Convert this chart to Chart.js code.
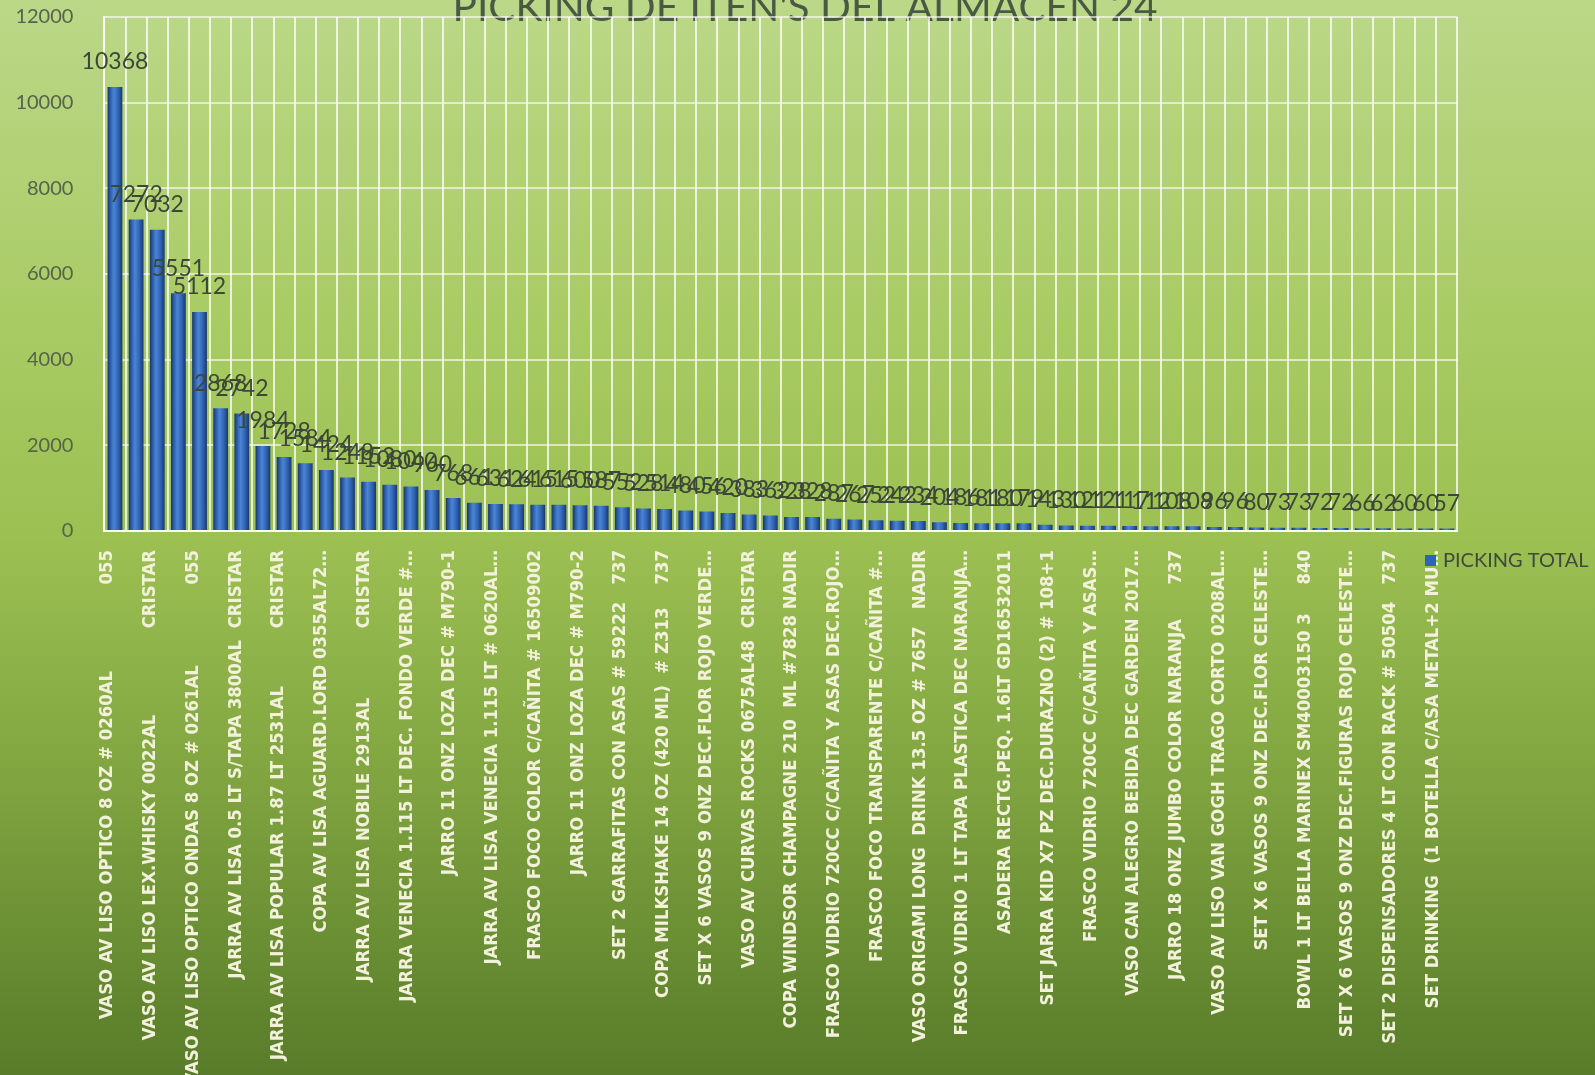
<!DOCTYPE html>
<html>
<head>
<meta charset="utf-8">
<script src="https://cdn.jsdelivr.net/npm/chart.js@4.4.1/dist/chart.umd.min.js"></script>
<style>
html,body{margin:0;padding:0;background:#9cbf52;}
#wrap{width:1595px;height:1075px;position:relative;}
canvas{display:block;}
</style>
</head>
<body>
<div id="wrap"><canvas id="c" width="1595" height="1075"></canvas></div>
<script>
const chartTitle = "PICKING DE ITEN'S DEL ALMACEN 24";
const seriesName = "PICKING TOTAL";

// one visible label for every second category
const tickLabels = [
  "VASO AV LISO OPTICO 8 OZ # 0260AL               055",
  "VASO AV LISO LEX.WHISKY 0022AL               CRISTAR",
  "VASO AV LISO OPTICO ONDAS 8 OZ # 0261AL              055",
  "JARRA AV LISA 0.5 LT S/TAPA 3800AL  CRISTAR",
  "JARRA AV LISA POPULAR 1.87 LT 2531AL          CRISTAR",
  "COPA AV LISA AGUARD.LORD 0355AL72…",
  "JARRA AV LISA NOBILE 2913AL            CRISTAR",
  "JARRA VENECIA 1.115 LT DEC. FONDO VERDE #…",
  "JARRO 11 ONZ LOZA DEC # M790-1",
  "JARRA AV LISA VENECIA 1.115 LT # 0620AL…",
  "FRASCO FOCO COLOR C/CAÑITA # 16509002",
  "JARRO 11 ONZ LOZA DEC # M790-2",
  "SET 2 GARRAFITAS CON ASAS # 59222   737",
  "COPA MILKSHAKE 14 OZ (420 ML)  # Z313    737",
  "SET X 6 VASOS 9 ONZ DEC.FLOR ROJO VERDE…",
  "VASO AV CURVAS ROCKS 0675AL48  CRISTAR",
  "COPA WINDSOR CHAMPAGNE 210  ML #7828 NADIR",
  "FRASCO VIDRIO 720CC C/CAÑITA Y ASAS DEC.ROJO…",
  "FRASCO FOCO TRANSPARENTE C/CAÑITA #…",
  "VASO ORIGAMI LONG  DRINK 13.5 OZ # 7657   NADIR",
  "FRASCO VIDRIO 1 LT TAPA PLASTICA DEC NARANJA…",
  "ASADERA RECTG.PEQ. 1.6LT GD16532011",
  "SET JARRA KID X7 PZ DEC.DURAZNO (2) # 108+1",
  "FRASCO VIDRIO 720CC C/CAÑITA Y ASAS…",
  "VASO CAN ALEGRO BEBIDA DEC GARDEN 2017…",
  "JARRO 18 ONZ JUMBO COLOR NARANJA      737",
  "VASO AV LISO VAN GOGH TRAGO CORTO 0208AL…",
  "SET X 6 VASOS 9 ONZ DEC.FLOR CELESTE…",
  "BOWL 1 LT BELLA MARINEX SM40003150 3     840",
  "SET X 6 VASOS 9 ONZ DEC.FIGURAS ROJO CELESTE…",
  "SET 2 DISPENSADORES 4 LT CON RACK # 50504   737",
  "SET DRINKING  (1 BOTELLA C/ASA METAL+2 MU…"
];

const pickingTotal = [
  10368, 7272, 7032, 5551, 5112, 2868, 2742, 1984,
  1728, 1584, 1424, 1248, 1152, 1080, 1040, 960,
  768, 661, 631, 624, 615, 615, 600, 587,
  552, 528, 514, 480, 456, 420, 383, 362,
  328, 328, 287, 267, 252, 242, 234, 204,
  186, 181, 180, 179, 143, 130, 121, 121,
  117, 112, 108, 108, 96, 96, 80, 73,
  73, 72, 72, 66, 62, 60, 60, 57
];

// category names: only every second one is shown on the axis
const categories = pickingTotal.map((_, i) => (i % 2 === 0 ? tickLabels[i / 2] : ""));

const yTicks = [0, 2000, 4000, 6000, 8000, 10000, 12000];

// size the axis-label font so the first label's text run matches the reference length
const labelFamily = "'Liberation Sans Narrow', 'DejaVu Sans Condensed', sans-serif";
const mctx = document.createElement('canvas').getContext('2d');
mctx.font = "bold 100px " + labelFamily;
const labelSize = Math.round(10 * 100 * 348 / mctx.measureText("VASO AV LISO OPTICO 8 OZ # 0260AL").width) / 10;

function barFill(c) {
  const chart = c.chart;
  const xs = chart.scales && chart.scales.x;
  if (!xs || c.dataIndex === undefined || !isFinite(xs.width)) return '#2f62b0';
  const cx = xs.getPixelForValue(c.dataIndex);
  const w = (xs.width / pickingTotal.length) * 0.7;
  const g = chart.ctx.createLinearGradient(cx - w / 2, 0, cx + w / 2, 0);
  g.addColorStop(0, '#17356a');
  g.addColorStop(0.18, '#2b5ba6');
  g.addColorStop(0.42, '#4c85d6');
  g.addColorStop(0.72, '#3063b3');
  g.addColorStop(1, '#183870');
  return g;
}

const bgPlugin = {
  id: 'bg',
  beforeDraw(chart) {
    const ctx = chart.ctx;
    const h = chart.height, w = chart.width;
    const g = ctx.createLinearGradient(0, 0, 0, h);
    g.addColorStop(0, '#bbd888');
    g.addColorStop(0.3, '#a9cb64');
    g.addColorStop(0.5, '#9cc052');
    g.addColorStop(0.7, '#83a842');
    g.addColorStop(1, '#587c29');
    ctx.save();
    ctx.fillStyle = g;
    ctx.fillRect(0, 0, w, h);
    // title (partially above the top edge, as in the reference)
    ctx.font = '41px Lato';
    ctx.fillStyle = '#4a5944';
    ctx.textAlign = 'center';
    ctx.textBaseline = 'alphabetic';
    ctx.fillText(chartTitle, 805, 21, 705);
    ctx.restore();
  }
};

const labelPlugin = {
  id: 'vals',
  afterDatasetsDraw(chart) {
    const ctx = chart.ctx;
    const meta = chart.getDatasetMeta(0);
    ctx.save();
    ctx.font = '23px Lato';
    ctx.fillStyle = '#3c4738';
    ctx.textAlign = 'center';
    ctx.textBaseline = 'middle';
    meta.data.forEach((el, i) => {
      ctx.fillText(String(pickingTotal[i]), el.x, el.y - 25);
    });
    ctx.restore();
  },
  afterDraw(chart) {
    const ctx = chart.ctx;
    ctx.save();
    ctx.fillStyle = '#2f62b8';
    ctx.fillRect(1425, 555, 11, 11);
    ctx.font = '20px Lato';
    ctx.fillStyle = '#3f4a3a';
    ctx.textAlign = 'left';
    ctx.textBaseline = 'middle';
    ctx.fillText(chart.data.datasets[0].label, 1443, 561);
    ctx.restore();
  }
};

new Chart(document.getElementById('c'), {
  type: 'bar',
  data: {
    labels: categories,
    datasets: [{
      label: seriesName,
      data: pickingTotal,
      xAxisID: 'x',
      yAxisID: 'y',
      backgroundColor: barFill,
      borderWidth: 0,
      barPercentage: 0.7,
      categoryPercentage: 1
    }]
  },
  options: {
    responsive: false,
    animation: false,
    devicePixelRatio: 1,
    layout: { padding: { left: 15, right: 137.6, top: 17, bottom: 0 } },
    plugins: {
      legend: { display: false },
      title: { display: false },
      tooltip: { enabled: false }
    },
    scales: {
      x: {
        type: 'category',
        offset: true,
        grid: { offset: true, color: 'rgba(255,255,255,0.75)', lineWidth: 2, drawTicks: false },
        border: { display: true, color: 'rgba(255,255,255,0.9)', width: 2 },
        ticks: { display: false }
      },
      x2: {
        type: 'linear',
        position: 'bottom',
        offset: false,
        min: -0.145,
        max: 63.141,
        bounds: 'data',
        grid: { display: false, drawTicks: false, offset: false },
        border: { display: false },
        afterBuildTicks: s => { s.ticks = tickLabels.map((_, k) => ({ value: 2 * k })); },
        afterFit: s => { s.height = 544; s.paddingLeft = 0; s.paddingRight = 0; },
        ticks: {
          autoSkip: false,
          minRotation: 90,
          maxRotation: 90,
          padding: 19,
          color: '#f3f1dc',
          font: { family: labelFamily, size: labelSize, weight: 'bold' },
          callback: (v, i) => tickLabels[i]
        }
      },
      y: {
        min: 0,
        max: 12000,
        afterBuildTicks: s => { s.ticks = yTicks.map(v => ({ value: v })); },
        afterFit: s => { s.width = 89.4; s.paddingTop = 0; s.paddingBottom = 0; },
        grid: { color: 'rgba(255,255,255,0.6)', lineWidth: 2, drawTicks: false },
        border: { display: true, color: 'rgba(255,255,255,0.9)', width: 2 },
        ticks: {
          padding: 31,
          color: '#56634d',
          font: { family: 'Lato', size: 20 },
          callback: v => String(v)
        }
      }
    }
  },
  plugins: [bgPlugin, labelPlugin]
});
</script>
</body>
</html>
